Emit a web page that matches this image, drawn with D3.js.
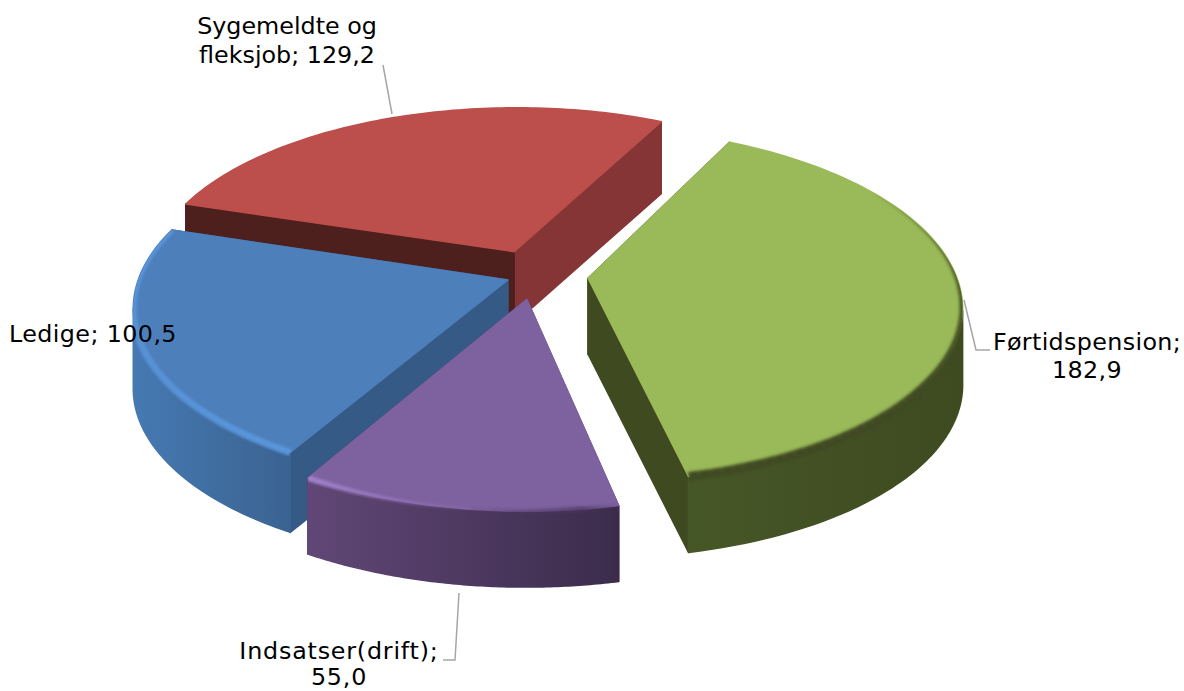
<!DOCTYPE html>
<html><head><meta charset="utf-8">
<style>html,body{margin:0;padding:0;background:#fff;overflow:hidden}svg{display:block}text{font-family:"DejaVu Sans",Verdana,sans-serif;font-size:23.8px;fill:#000}</style>
<script src="https://cdn.jsdelivr.net/npm/d3@7"></script>
</head><body><svg id="c" width="1184" height="691"></svg>
<script>
const categories=["Førtidspension","Indsatser(drift)","Ledige","Sygemeldte og fleksjob"];
const values=[182.9,55.0,100.5,129.2];
const valueLabels=["182,9","55,0","100,5","129,2"];
const labelLines=[["Førtidspension;","182,9"],["Indsatser(drift);","55,0"],["Ledige; 100,5"],["Sygemeldte og","fleksjob; 129,2"]];
const labelPos=[[1087,350,28],[339,659,26],[93,342,0],[287,34,29]];
const labelSpacing=[0.35,0.8,0.4,0];
const explode=[0.145,0.14,0.079,0.15];
const depths=[76,76,80,72];
const topColors=["#9aba59","#7e62a0","#4d7fbb","#bc4f4b"];
const startWallColors=["#3f4a20","#4a3560","#365a86","#4d1f1d"];
const endWallColors=["#3f4a20","#4a3560","#365a86","#853535"];
const wallFrom=["#465727","#604776","#4679b2","#853535"];
const wallTo=["#3e4a20","#3c2c4c","#3a6391","#853535"];
const leaders=[[[964,300],[976,350],[990,350]],[[459,593],[455,660],[443,660]],[],[[383,65],[392,114]]];

const cx=535,cy=275,q=0.15;
const xs=d3.scaleLinear([0,1],[0,368]),ys=d3.scaleLinear([0,1],[0,172]);
const start=27*Math.PI/180;
const pie=d3.pie().sort(null).startAngle(start).endAngle(start+2*Math.PI);
const arcs=pie(values);
const svg=d3.select("#c"),defs=svg.append("defs");
const line=d3.line();
const blur=(id,s)=>defs.append("filter").attr("id",id).attr("filterUnits","userSpaceOnUse").attr("x",0).attr("y",0).attr("width",1184).attr("height",691).append("feGaussianBlur").attr("stdDeviation",s);
blur("b1",1.3);blur("b2",1.8);

function proj(X,Y,h){const w=1+q*Y;return [cx+xs(X)/w,cy-ys(Y)/w+(h||0)];}
function slice(d,i){
  const mid=(d.startAngle+d.endAngle)/2,e=explode[i],h=depths[i];
  const ox=e*Math.sin(mid),oy=e*Math.cos(mid);
  const n=90,angs=d3.range(n+1).map(k=>d.startAngle+(d.endAngle-d.startAngle)*k/n);
  const top=angs.map(a=>proj(ox+Math.sin(a),oy+Math.cos(a),0));
  const bot=angs.map(a=>proj(ox+Math.sin(a),oy+Math.cos(a),h));
  // only the part of the rim between the side extremes faces the viewer
  const xv=top.map(p=>p[0]),a=d3.maxIndex(xv),b=d3.minIndex(xv);
  const wall=[...top.slice(a,b+1),...bot.slice(a,b+1).reverse()];
  return {apex:proj(ox,oy,0),apexB:proj(ox,oy,h),top,bot,wall};
}
const geo=arcs.map(slice);
const g=svg.append("g");
function poly(pts,fill){return g.append("path").attr("d",line(pts)+"Z").attr("fill",fill).attr("stroke",fill).attr("stroke-width",1.5).attr("stroke-linejoin","round");}
function wallGrad(i){
  const xsv=geo[i].top.map(p=>p[0]);
  const lg=defs.append("linearGradient").attr("id","w"+i).attr("gradientUnits","userSpaceOnUse")
    .attr("x1",d3.min(xsv)).attr("x2",d3.max(xsv)).attr("y1",0).attr("y2",0);
  lg.append("stop").attr("offset",0).attr("stop-color",wallFrom[i]);
  lg.append("stop").attr("offset",1).attr("stop-color",wallTo[i]);
  return `url(#w${i})`;
}
geo.forEach((G,i)=>{
  const c=defs.append("clipPath").attr("id","u"+i);
  c.append("path").attr("d",line([G.apex,...G.top])+"Z");
  c.append("path").attr("d",line(G.wall)+"Z");
});
function bevel(i,stops,color,filter){
  const G=geo[i],n=G.top.length-1;
  const w=d3.scaleLinear(stops.map(s=>s[0]),stops.map(s=>s[1]));
  const o=d3.scaleLinear(stops.map(s=>s[0]),stops.map(s=>s[2]));
  const a=Math.round(stops[0][0]*n),b=Math.round(stops[stops.length-1][0]*n);
  const bg=g.append("g").attr("clip-path",`url(#u${i})`).append("g").attr("filter",`url(#${filter})`);
  d3.range(a,b).forEach(k=>{
    const t=(k+0.5)/n;
    bg.append("path").attr("d",line([G.top[k],G.top[k+1]])).attr("fill","none").attr("stroke",color)
      .attr("stroke-width",w(t)).attr("stroke-opacity",o(t));
  });
}
function drawSlice(i){
  const G=geo[i],n=G.top.length-1;
  poly([G.apex,G.top[n],G.bot[n],G.apexB],endWallColors[i]);
  poly([G.apex,G.top[0],G.bot[0],G.apexB],startWallColors[i]);
  if(i!==3) poly(G.wall,wallGrad(i));
  poly([G.apex,...G.top],topColors[i]);
}
drawSlice(3);
drawSlice(0);
bevel(0,[[0.22,1,0.3],[0.5,6,0.9],[0.7,9,1],[1,9,1]],"#3f4a20","b2");
drawSlice(2);
bevel(2,[[0,7,0.95],[0.5,7,0.8],[1,6,0.95]],"#5b97dd","b1");
drawSlice(1);
bevel(1,[[0,2,0.2],[0.12,5,0.8],[0.45,3,0.1]],"#4a3560","b2");
bevel(1,[[0.45,2,0.1],[1,6,1]],"#a283cc","b1");

leaders.forEach(L=>{if(L.length)svg.append("path").attr("d",line(L)).attr("fill","none").attr("stroke","#a6a6a6").attr("stroke-width",1.5);});
labelLines.forEach((lines,i)=>{
  const t=svg.append("text").attr("text-anchor","middle").attr("x",labelPos[i][0]).attr("y",labelPos[i][1]).attr("letter-spacing",labelSpacing[i]);
  lines.forEach((s,k)=>t.append("tspan").attr("x",labelPos[i][0]).attr("dy",k?labelPos[i][2]:0).text(s));
});
</script></body></html>
